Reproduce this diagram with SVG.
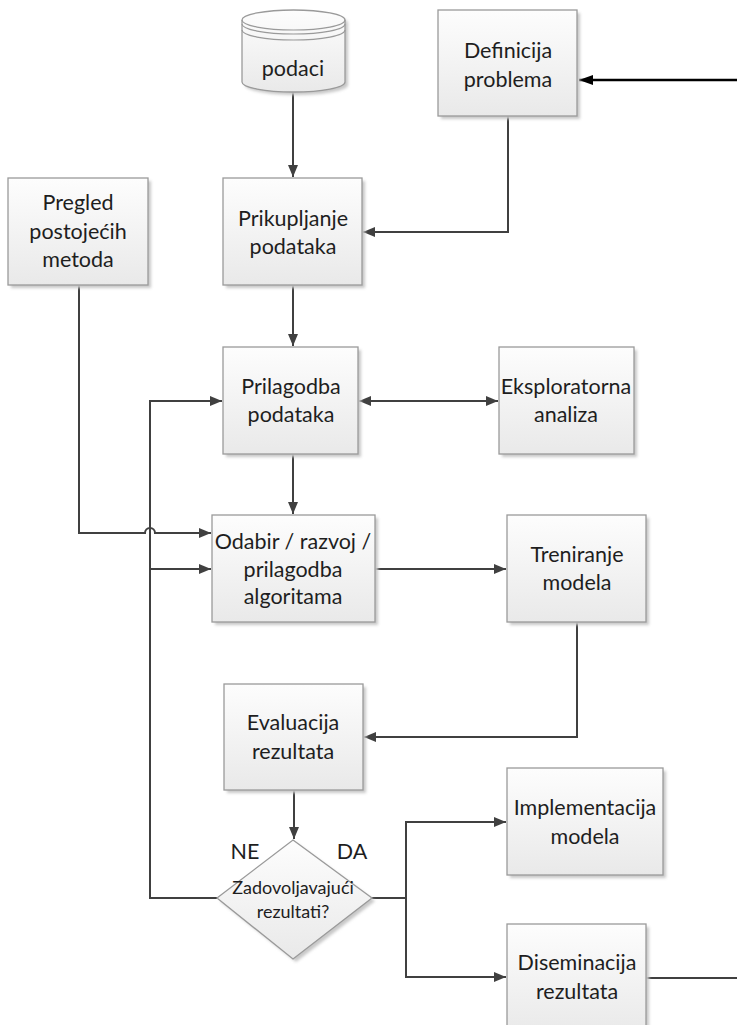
<svg xmlns="http://www.w3.org/2000/svg" width="737" height="1025" viewBox="0 0 737 1025">
<defs>
<linearGradient id="g" x1="0" y1="0" x2="0" y2="1">
<stop offset="0" stop-color="#fdfdfd"/>
<stop offset="1" stop-color="#e9e9e9"/>
</linearGradient>
<filter id="sh" x="-10%" y="-10%" width="130%" height="130%">
<feGaussianBlur stdDeviation="1.5"/>
</filter>
<marker id="ah" viewBox="0 0 12 10" refX="12" refY="5" markerWidth="12" markerHeight="10" markerUnits="userSpaceOnUse" orient="auto-start-reverse">
<path d="M0 0 L12 5 L0 10 Z" fill="#404040"/>
</marker>
<marker id="ahb" viewBox="0 0 14 10" refX="14" refY="5" markerWidth="14" markerHeight="10" markerUnits="userSpaceOnUse" orient="auto">
<path d="M0 0 L14 5 L0 10 Z" fill="#000"/>
</marker>
</defs>
<style>
.box{fill:url(#g);stroke:#9a9a9a;stroke-width:1.3}
.shd{fill:#c8c8c8;filter:url(#sh)}
.t{font-family:Lato,"Open Sans",sans-serif;font-size:21.5px;fill:#1e1e1e;text-anchor:middle}
.d{font-size:18px}
.c{fill:none;stroke:#404040;stroke-width:2}
</style>
<rect width="737" height="1025" fill="#fff"/>

<g id="connectors">
<path class="c" d="M293 92 V177" marker-end="url(#ah)"/>
<path class="c" d="M508 116 V232 H363" marker-end="url(#ah)"/>
<path class="c" d="M293 285 V346" marker-end="url(#ah)"/>
<path class="c" d="M359 401 H498" marker-start="url(#ah)" marker-end="url(#ah)"/>
<path class="c" d="M293 454 V514" marker-end="url(#ah)"/>
<path class="c" d="M79 285 V533 H145 A5 5 0 0 1 155 533 H211" marker-end="url(#ah)"/>
<path class="c" d="M217 898 H150 V401 H222" marker-end="url(#ah)"/>
<path class="c" d="M150 569 H211" marker-end="url(#ah)"/>
<path class="c" d="M375 569 H506" marker-end="url(#ah)"/>
<path class="c" d="M577 622 V737 H364" marker-end="url(#ah)"/>
<path class="c" d="M294 790 V839" marker-end="url(#ah)"/>
<path class="c" d="M372 898 H406 V822 H506" marker-end="url(#ah)"/>
<path class="c" d="M406 898 V977 H506" marker-end="url(#ah)"/>
<path d="M646 978 H737" fill="none" stroke="#000" stroke-width="1.3"/>
<path d="M737 80 H579" fill="none" stroke="#000" stroke-width="2.5" marker-end="url(#ahb)"/>
</g>

<g id="podaci">
<path class="shd" d="M245 23 A51.5 10 0 0 1 348 23 V85 A51.5 10 0 0 1 245 85 Z"/>
<path class="box" d="M242 20 A51.5 10 0 0 1 345 20 V82 A51.5 10 0 0 1 242 82 Z"/>
<path d="M242 20 A51.5 10 0 0 0 345 20 M242 24 A51.5 10 0 0 0 345 24 M242 30 A51.5 10 0 0 0 345 30" fill="none" stroke="#9a9a9a" stroke-width="1.2"/>
<text class="t" x="293" y="76">podaci</text>
</g>

<g id="definicija">
<rect class="shd" x="441" y="13" width="139" height="106"/>
<rect class="box" x="438" y="10" width="139" height="106"/>
<text class="t" x="508" y="58">Definicija</text>
<text class="t" x="508" y="87">problema</text>
</g>

<g id="pregled">
<rect class="shd" x="11" y="181" width="140" height="107"/>
<rect class="box" x="8" y="178" width="140" height="107"/>
<text class="t" x="78" y="210">Pregled</text>
<text class="t" x="78" y="239">postojećih</text>
<text class="t" x="78" y="267">metoda</text>
</g>

<g id="prikupljanje">
<rect class="shd" x="226" y="181" width="139" height="107"/>
<rect class="box" x="223" y="178" width="139" height="107"/>
<text class="t" x="293" y="226">Prikupljanje</text>
<text class="t" x="293" y="254">podataka</text>
</g>

<g id="prilagodba">
<rect class="shd" x="226" y="350" width="135" height="107"/>
<rect class="box" x="223" y="347" width="135" height="107"/>
<text class="t" x="291" y="394">Prilagodba</text>
<text class="t" x="291" y="422">podataka</text>
</g>

<g id="eksploratorna">
<rect class="shd" x="502" y="350" width="135" height="107"/>
<rect class="box" x="499" y="347" width="135" height="107"/>
<text class="t" x="566" y="394">Eksploratorna</text>
<text class="t" x="566" y="422">analiza</text>
</g>

<g id="odabir">
<rect class="shd" x="215" y="518" width="163" height="107"/>
<rect class="box" x="212" y="515" width="163" height="107"/>
<text class="t" x="293" y="549">Odabir / razvoj /</text>
<text class="t" x="293" y="577">prilagodba</text>
<text class="t" x="293" y="604">algoritama</text>
</g>

<g id="treniranje">
<rect class="shd" x="510" y="518" width="139" height="107"/>
<rect class="box" x="507" y="515" width="139" height="107"/>
<text class="t" x="577" y="562">Treniranje</text>
<text class="t" x="577" y="590">modela</text>
</g>

<g id="evaluacija">
<rect class="shd" x="227" y="687" width="139" height="106"/>
<rect class="box" x="224" y="684" width="139" height="106"/>
<text class="t" x="293" y="730">Evaluacija</text>
<text class="t" x="293" y="759">rezultata</text>
</g>

<g id="odluka">
<path class="shd" d="M296 843 L375 901 L296 962 L220 901 Z"/>
<path class="box" d="M293 840 L372 898 L293 959 L217 898 Z"/>
<text class="t d" x="293" y="894">Zadovoljavajući</text>
<text class="t d" x="293" y="918">rezultati?</text>
<text class="t" x="245" y="859">NE</text>
<text class="t" x="352" y="859">DA</text>
</g>

<g id="implementacija">
<rect class="shd" x="510" y="771" width="156" height="107"/>
<rect class="box" x="507" y="768" width="156" height="107"/>
<text class="t" x="585" y="815">Implementacija</text>
<text class="t" x="585" y="844">modela</text>
</g>

<g id="diseminacija">
<rect class="shd" x="510" y="927" width="139" height="110"/>
<rect class="box" x="507" y="924" width="139" height="110"/>
<text class="t" x="577" y="970">Diseminacija</text>
<text class="t" x="577" y="999">rezultata</text>
</g>
</svg>
